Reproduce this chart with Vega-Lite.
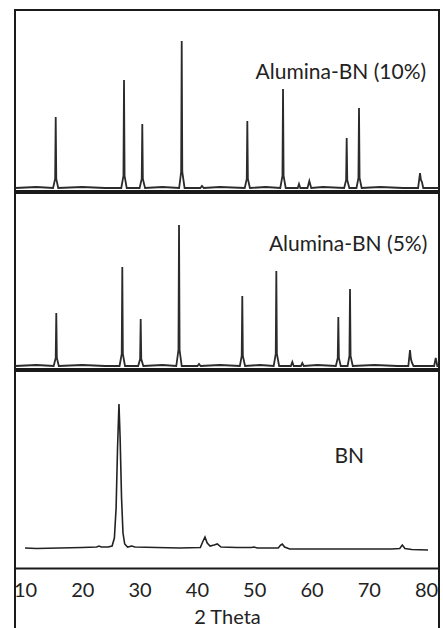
{
  "$schema": "https://vega.github.io/schema/vega-lite/v6.json",
  "padding": {"left": 12, "top": 9, "right": 3, "bottom": 0},
  "autosize": {"type": "pad"},
  "spacing": 0,
  "background": "white",
  "config": {
    "view": {"stroke": "#1a1a1a", "strokeWidth": 2},
    "font": "Lato"
  },
  "resolve": {"scale": {"x": "independent", "y": "independent"}},
  "datasets": {
    "p10": [
      {"theta": 8.3, "intensity": 0}, {"theta": 12, "intensity": 1}, {"theta": 14.9, "intensity": 0},
      {"theta": 15.26, "intensity": 9}, {"theta": 15.36, "intensity": 71}, {"theta": 15.46, "intensity": 9}, {"theta": 15.8, "intensity": 0},
      {"theta": 20, "intensity": 1}, {"theta": 24, "intensity": 0}, {"theta": 26.8, "intensity": 0},
      {"theta": 27.18, "intensity": 12}, {"theta": 27.28, "intensity": 108}, {"theta": 27.38, "intensity": 12}, {"theta": 27.75, "intensity": 0},
      {"theta": 30.0, "intensity": 0}, {"theta": 30.37, "intensity": 9}, {"theta": 30.47, "intensity": 64}, {"theta": 30.57, "intensity": 9}, {"theta": 30.95, "intensity": 0},
      {"theta": 34, "intensity": 1}, {"theta": 36.9, "intensity": 0},
      {"theta": 37.25, "intensity": 16}, {"theta": 37.35, "intensity": 147}, {"theta": 37.45, "intensity": 16}, {"theta": 37.85, "intensity": 0},
      {"theta": 40.6, "intensity": 0}, {"theta": 40.89, "intensity": 2}, {"theta": 41.2, "intensity": 0},
      {"theta": 44, "intensity": 1}, {"theta": 48.35, "intensity": 0},
      {"theta": 48.7, "intensity": 9}, {"theta": 48.8, "intensity": 67}, {"theta": 48.9, "intensity": 9}, {"theta": 49.25, "intensity": 0},
      {"theta": 52, "intensity": 1}, {"theta": 54.55, "intensity": 0},
      {"theta": 54.93, "intensity": 12}, {"theta": 55.03, "intensity": 99}, {"theta": 55.13, "intensity": 12}, {"theta": 55.5, "intensity": 0},
      {"theta": 57.6, "intensity": 0}, {"theta": 57.82, "intensity": 4}, {"theta": 58.05, "intensity": 0},
      {"theta": 59.3, "intensity": 0}, {"theta": 59.62, "intensity": 7}, {"theta": 59.95, "intensity": 0},
      {"theta": 62, "intensity": 1}, {"theta": 65.7, "intensity": 0},
      {"theta": 66.04, "intensity": 8}, {"theta": 66.14, "intensity": 50}, {"theta": 66.24, "intensity": 8}, {"theta": 66.6, "intensity": 0},
      {"theta": 67.85, "intensity": 0}, {"theta": 68.19, "intensity": 10}, {"theta": 68.29, "intensity": 80}, {"theta": 68.39, "intensity": 10}, {"theta": 68.75, "intensity": 0},
      {"theta": 72, "intensity": 1}, {"theta": 76, "intensity": 0}, {"theta": 78.6, "intensity": 0},
      {"theta": 78.94, "intensity": 15}, {"theta": 79.1, "intensity": 8}, {"theta": 79.28, "intensity": 6}, {"theta": 79.5, "intensity": 0},
      {"theta": 82.2, "intensity": 0}
    ],
    "p5": [
      {"theta": 8.3, "intensity": 0}, {"theta": 12, "intensity": 1}, {"theta": 15.0, "intensity": 0},
      {"theta": 15.36, "intensity": 8}, {"theta": 15.46, "intensity": 53}, {"theta": 15.56, "intensity": 8}, {"theta": 15.9, "intensity": 0},
      {"theta": 20, "intensity": 1}, {"theta": 24, "intensity": 0}, {"theta": 26.5, "intensity": 0},
      {"theta": 26.88, "intensity": 12}, {"theta": 26.98, "intensity": 99}, {"theta": 27.08, "intensity": 12}, {"theta": 27.45, "intensity": 0},
      {"theta": 29.75, "intensity": 0}, {"theta": 30.09, "intensity": 7}, {"theta": 30.19, "intensity": 47}, {"theta": 30.29, "intensity": 7}, {"theta": 30.65, "intensity": 0},
      {"theta": 34, "intensity": 1}, {"theta": 36.4, "intensity": 0},
      {"theta": 36.78, "intensity": 16}, {"theta": 36.88, "intensity": 141}, {"theta": 36.98, "intensity": 16}, {"theta": 37.35, "intensity": 0},
      {"theta": 40.1, "intensity": 0}, {"theta": 40.37, "intensity": 2}, {"theta": 40.65, "intensity": 0},
      {"theta": 44, "intensity": 1}, {"theta": 47.5, "intensity": 0},
      {"theta": 47.82, "intensity": 10}, {"theta": 47.92, "intensity": 70}, {"theta": 48.02, "intensity": 10}, {"theta": 48.4, "intensity": 0},
      {"theta": 51, "intensity": 1}, {"theta": 53.4, "intensity": 0},
      {"theta": 53.76, "intensity": 12}, {"theta": 53.86, "intensity": 95}, {"theta": 53.96, "intensity": 12}, {"theta": 54.35, "intensity": 0},
      {"theta": 56.4, "intensity": 0}, {"theta": 56.65, "intensity": 4}, {"theta": 56.9, "intensity": 0},
      {"theta": 58.15, "intensity": 0}, {"theta": 58.39, "intensity": 3}, {"theta": 58.65, "intensity": 0},
      {"theta": 61, "intensity": 1}, {"theta": 64.25, "intensity": 0},
      {"theta": 64.58, "intensity": 8}, {"theta": 64.68, "intensity": 49}, {"theta": 64.78, "intensity": 8}, {"theta": 65.1, "intensity": 0},
      {"theta": 66.3, "intensity": 0}, {"theta": 66.62, "intensity": 10}, {"theta": 66.72, "intensity": 77}, {"theta": 66.82, "intensity": 10}, {"theta": 67.2, "intensity": 0},
      {"theta": 71, "intensity": 1}, {"theta": 75, "intensity": 0}, {"theta": 76.9, "intensity": 0},
      {"theta": 77.19, "intensity": 16}, {"theta": 77.35, "intensity": 7}, {"theta": 77.55, "intensity": 3}, {"theta": 77.8, "intensity": 0},
      {"theta": 81.4, "intensity": 0}, {"theta": 81.68, "intensity": 8}, {"theta": 81.95, "intensity": 0}, {"theta": 82.2, "intensity": 0}
    ],
    "bn": [
      {"theta": 10, "intensity": 0}, {"theta": 12, "intensity": -0.5}, {"theta": 16, "intensity": 0}, {"theta": 20, "intensity": 0.5},
      {"theta": 22.5, "intensity": 1}, {"theta": 22.91, "intensity": 2}, {"theta": 23.3, "intensity": 1}, {"theta": 24.5, "intensity": 1},
      {"theta": 25.2, "intensity": 2}, {"theta": 25.6, "intensity": 10}, {"theta": 25.9, "intensity": 40}, {"theta": 26.15, "intensity": 100},
      {"theta": 26.4, "intensity": 144}, {"theta": 26.6, "intensity": 110}, {"theta": 26.85, "intensity": 50}, {"theta": 27.1, "intensity": 15},
      {"theta": 27.4, "intensity": 4}, {"theta": 27.9, "intensity": 1}, {"theta": 28.62, "intensity": 2}, {"theta": 29.2, "intensity": 1},
      {"theta": 33, "intensity": 0.5}, {"theta": 37, "intensity": 0}, {"theta": 40.6, "intensity": 0.5}, {"theta": 41.0, "intensity": 6},
      {"theta": 41.41, "intensity": 11}, {"theta": 41.8, "intensity": 5}, {"theta": 42.3, "intensity": 2}, {"theta": 43.0, "intensity": 3},
      {"theta": 43.56, "intensity": 4}, {"theta": 44.2, "intensity": 1}, {"theta": 47, "intensity": 0.5}, {"theta": 49.5, "intensity": 0.5},
      {"theta": 49.97, "intensity": 1}, {"theta": 50.5, "intensity": 0}, {"theta": 54.2, "intensity": 0}, {"theta": 54.6, "intensity": 3},
      {"theta": 54.9, "intensity": 4}, {"theta": 55.3, "intensity": 1}, {"theta": 56.2, "intensity": -1}, {"theta": 62, "intensity": -1},
      {"theta": 68, "intensity": -1}, {"theta": 74, "intensity": -1}, {"theta": 75.4, "intensity": -0.5}, {"theta": 75.85, "intensity": 3},
      {"theta": 76.3, "intensity": -0.5}, {"theta": 77.5, "intensity": -1.5}, {"theta": 80.33, "intensity": -2}
    ]
  },
  "vconcat": [
    {
      "width": 424,
      "height": 181,
      "layer": [
        {
          "data": {"name": "p10"},
          "mark": {"type": "line", "color": "#2b2b2b", "strokeWidth": 1.8, "clip": true},
          "encoding": {
            "x": {"field": "theta", "type": "quantitative", "scale": {"domain": [8.255, 82.25], "nice": false, "zero": false}, "axis": null},
            "y": {"field": "intensity", "type": "quantitative", "scale": {"domain": [-3, 178], "nice": false, "zero": false}, "axis": null}
          }
        },
        {
          "data": {"values": [{}]},
          "mark": {"type": "text", "align": "right", "baseline": "middle", "fontSize": 21, "color": "#222"},
          "encoding": {
            "x": {"datum": 80, "type": "quantitative"},
            "y": {"datum": 115, "type": "quantitative"},
            "text": {"value": "Alumina-BN (10%)"}
          }
        }
      ]
    },
    {
      "width": 424,
      "height": 176,
      "layer": [
        {
          "data": {"name": "p5"},
          "mark": {"type": "line", "color": "#2b2b2b", "strokeWidth": 1.8, "clip": true},
          "encoding": {
            "x": {"field": "theta", "type": "quantitative", "scale": {"domain": [8.255, 82.25], "nice": false, "zero": false}, "axis": null},
            "y": {"field": "intensity", "type": "quantitative", "scale": {"domain": [-3, 173], "nice": false, "zero": false}, "axis": null}
          }
        },
        {
          "data": {"values": [{}]},
          "mark": {"type": "text", "align": "right", "baseline": "middle", "fontSize": 21, "color": "#222"},
          "encoding": {
            "x": {"datum": 80.2, "type": "quantitative"},
            "y": {"datum": 121, "type": "quantitative"},
            "text": {"value": "Alumina-BN (5%)"}
          }
        }
      ]
    },
    {
      "width": 424,
      "height": 275,
      "layer": [
        {
          "data": {"name": "bn"},
          "mark": {"type": "line", "color": "#222", "strokeWidth": 1.6, "clip": true},
          "encoding": {
            "x": {
              "field": "theta", "type": "quantitative",
              "scale": {"domain": [8.255, 82.25], "nice": false, "zero": false},
              "axis": {
                "orient": "bottom", "offset": -78, "values": [10, 20, 30, 40, 50, 60, 70, 80],
                "ticks": false, "tickSize": 0, "grid": false, "labelFlush": false,
                "labelFont": "Lato", "labelFontSize": 20, "labelColor": "#222", "labelPadding": 12,
                "domainColor": "#1a1a1a", "domainWidth": 2,
                "title": "2 Theta", "titleFont": "Lato", "titleFontSize": 20, "titleFontWeight": "normal",
                "titleColor": "#222", "titleY": 55, "titleBaseline": "alphabetic"
              }
            },
            "y": {"field": "intensity", "type": "quantitative", "scale": {"domain": [-98, 177], "nice": false, "zero": false}, "axis": null}
          }
        },
        {
          "data": {"values": [{}]},
          "mark": {"type": "text", "align": "center", "baseline": "middle", "fontSize": 21, "color": "#222"},
          "encoding": {
            "x": {"datum": 66.6, "type": "quantitative"},
            "y": {"datum": 91, "type": "quantitative"},
            "text": {"value": "BN"}
          }
        }
      ]
    }
  ]
}
